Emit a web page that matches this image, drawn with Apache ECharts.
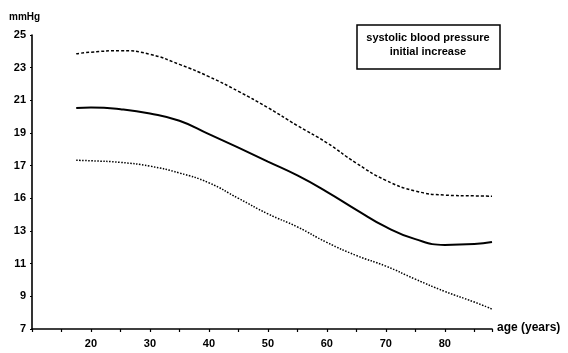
<!DOCTYPE html>
<html><head><meta charset="utf-8">
<script src="https://cdn.jsdelivr.net/npm/echarts/dist/echarts.min.js"></script>
<style>html,body{margin:0;padding:0;background:#fff}#c{width:568px;height:353px}</style>
</head><body><div id="c"></div>
<script>
// age (years)
const ages  = [17.5, 20, 25, 30, 35, 40, 45, 50, 55, 60, 65, 70, 75, 80, 85, 88];
// upper bound (dashed)
const upper = [23.85, 23.95, 24.04, 23.82, 23.2, 22.45, 21.55, 20.55, 19.45, 18.4, 17.15, 16.1, 15.45, 15.2, 15.15, 15.13];
// mean (solid)
const mean  = [20.53, 20.56, 20.46, 20.2, 19.75, 18.93, 18.1, 17.25, 16.4, 15.4, 14.3, 13.25, 12.5, 12.15, 12.2, 12.33];
// lower bound (dotted)
const lower = [17.33, 17.3, 17.2, 16.97, 16.55, 15.95, 15.0, 14.05, 13.25, 12.3, 11.5, 10.85, 10.05, 9.3, 8.65, 8.22];

const xTickLabels = [20, 30, 40, 50, 60, 70, 80];
const yTickValues = [7, 9, 11, 13, 15, 17, 19, 21, 23, 25];
const yTickLabels = ['7', '9', '11', '13', '16', '17', '19', '21', '23', '25'];

const FONT = 'Liberation Sans';
const chart = echarts.init(document.getElementById('c'), null, {renderer: 'canvas'});
const pairs = arr => ages.map((a, i) => [a, arr[i]]);

chart.setOption({
  animation: false,
  backgroundColor: '#fff',
  grid: {left: 32, top: 35, right: 76, bottom: 24, containLabel: false},
  xAxis: {
    type: 'value', min: 10, max: 88, interval: 5,
    axisLine: {show: true, lineStyle: {color: '#000', width: 1.6}},
    axisTick: {show: true, length: 3, lineStyle: {color: '#000', width: 1.2}},
    axisLabel: {color: '#000', fontFamily: FONT, fontWeight: 'bold', fontSize: 11, margin: 9,
      formatter: v => xTickLabels.includes(v) ? String(v) : ''},
    splitLine: {show: false}
  },
  yAxis: {
    type: 'value', min: 7, max: 25, interval: 2,
    axisLine: {show: true, lineStyle: {color: '#000', width: 1.6}},
    axisTick: {show: true, length: 2, lineStyle: {color: '#000', width: 1}},
    axisLabel: {color: '#000', fontFamily: FONT, fontWeight: 'bold', fontSize: 11, margin: 6,
      formatter: v => { const i = yTickValues.indexOf(v); return i >= 0 ? yTickLabels[i] : ''; }},
    splitLine: {show: false}
  },
  series: [
    {type: 'line', data: pairs(upper), smooth: true, symbol: 'none',
     lineStyle: {color: '#000', width: 1.5, type: [3, 2]}},
    {type: 'line', data: pairs(mean), smooth: true, symbol: 'none',
     lineStyle: {color: '#000', width: 2}},
    {type: 'line', data: pairs(lower), smooth: true, symbol: 'none',
     lineStyle: {color: '#000', width: 1.5, type: [1.5, 1.5]}}
  ],
  graphic: [
    {type: 'text', x: 9, y: 17,
     style: {text: 'mmHg', fill: '#000', font: 'bold 10px "Liberation Sans"', align: 'left', verticalAlign: 'middle'}},
    {type: 'text', x: 497, y: 328,
     style: {text: 'age (years)', fill: '#000', font: 'bold 12px "Liberation Sans"', align: 'left', verticalAlign: 'middle'}},
    {type: 'rect', shape: {x: 357, y: 25, width: 143, height: 44},
     style: {fill: 'none', stroke: '#000', lineWidth: 1.5}},
    {type: 'text', x: 428, y: 45,
     style: {text: 'systolic blood pressure\ninitial increase', fill: '#000',
       font: 'bold 11px "Liberation Sans"', align: 'center', verticalAlign: 'middle', lineHeight: 14}}
  ]
});
</script>
</body></html>
